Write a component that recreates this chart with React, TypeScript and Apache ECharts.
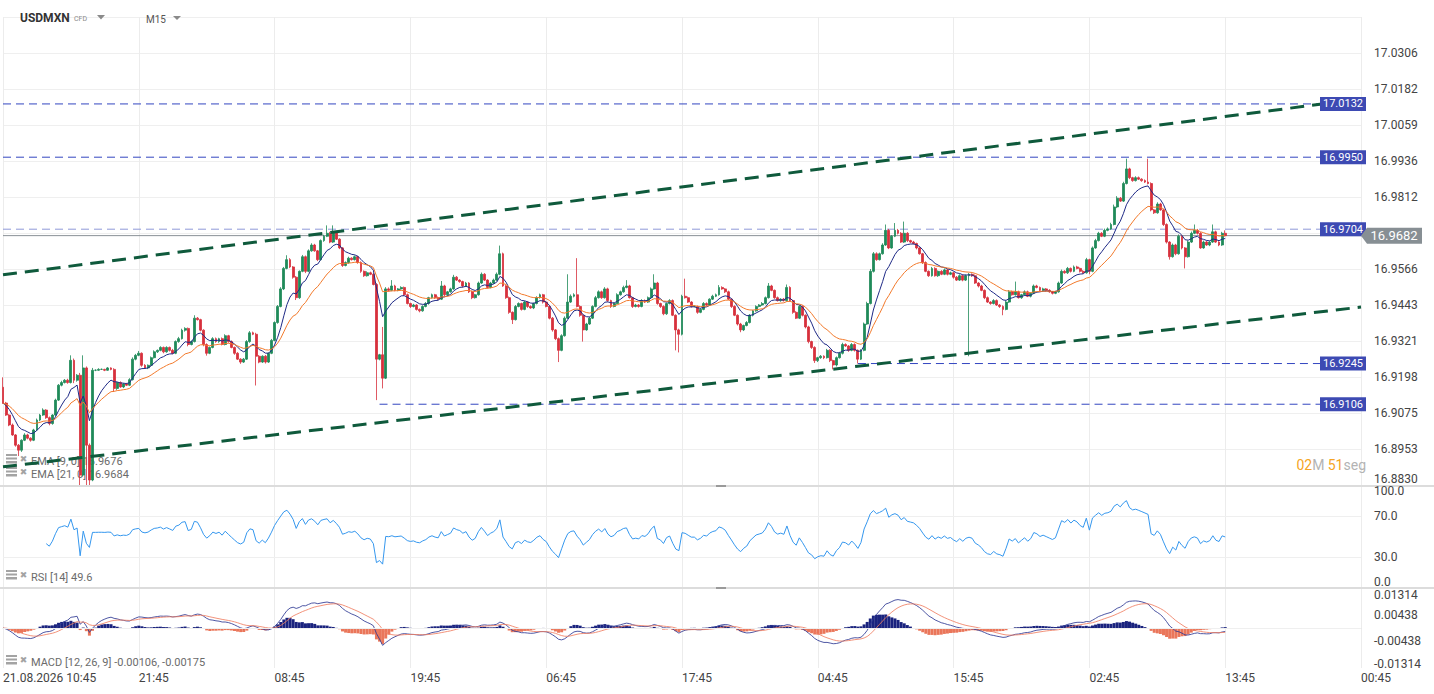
import React, { useEffect, useRef } from "react";
import * as echarts from "echarts";

// ---------------- DATA ----------------
const FIRST_OPEN = 16.9164;
// M15 closes, 21.08.2026 10:45 onwards
const CLOSES = [
  16.9110, 16.9069, 16.9035, 16.9001, 16.8966, 16.8949, 16.8983, 16.9001, 16.8990, 16.8983,
  16.9018, 16.9052, 16.9069, 16.9086, 16.9060, 16.9040, 16.9069, 16.9120, 16.9171, 16.9180,
  16.9188, 16.9180, 16.9256, 16.9188, 16.9205, 16.8864, 16.9230, 16.8966, 16.8847, 16.9222,
  16.9222, 16.9225, 16.9225, 16.9222, 16.9230, 16.9225, 16.9160, 16.9180, 16.9165, 16.9175,
  16.9171, 16.9190, 16.9260, 16.9273, 16.9280, 16.9239, 16.9230, 16.9239, 16.9265, 16.9285,
  16.9290, 16.9300, 16.9285, 16.9300, 16.9290, 16.9280, 16.9320, 16.9330, 16.9359, 16.9365,
  16.9310, 16.9320, 16.9400, 16.9395, 16.9359, 16.9310, 16.9280, 16.9300, 16.9330, 16.9320,
  16.9330, 16.9310, 16.9340, 16.9320, 16.9300, 16.9280, 16.9260, 16.9250, 16.9260, 16.9320,
  16.9350, 16.9345, 16.9270, 16.9250, 16.9270, 16.9250, 16.9280, 16.9324, 16.9385, 16.9440,
  16.9500, 16.9570, 16.9600, 16.9575, 16.9540, 16.9470, 16.9560, 16.9610, 16.9560, 16.9630,
  16.9650, 16.9630, 16.9600, 16.9665, 16.9680, 16.9690, 16.9660, 16.9692, 16.9670, 16.9640,
  16.9580, 16.9590, 16.9605, 16.9600, 16.9610, 16.9590, 16.9560, 16.9545, 16.9555, 16.9550,
  16.9515, 16.9260, 16.9275, 16.9195, 16.9500, 16.9495, 16.9510, 16.9495, 16.9500, 16.9505,
  16.9480, 16.9450, 16.9440, 16.9445, 16.9430, 16.9425, 16.9440, 16.9450, 16.9470, 16.9480,
  16.9470, 16.9465, 16.9510, 16.9480, 16.9490, 16.9500, 16.9540, 16.9530, 16.9525,
  16.9510, 16.9520, 16.9490, 16.9470, 16.9480, 16.9520, 16.9550, 16.9530, 16.9505, 16.9520,
  16.9530, 16.9550, 16.9620, 16.9510, 16.9470, 16.9420, 16.9395, 16.9440, 16.9450, 16.9430,
  16.9455, 16.9440, 16.9435, 16.9450, 16.9470, 16.9480, 16.9455, 16.9440, 16.9400, 16.9360,
  16.9330, 16.9290, 16.9340, 16.9400, 16.9455, 16.9475, 16.9480, 16.9440, 16.9410, 16.9360,
  16.9380, 16.9400, 16.9440, 16.9470, 16.9490, 16.9470, 16.9500, 16.9460, 16.9440, 16.9450,
  16.9480, 16.9490, 16.9505, 16.9510, 16.9470, 16.9440, 16.9445, 16.9440, 16.9460, 16.9455,
  16.9470, 16.9500, 16.9520, 16.9450, 16.9440, 16.9415, 16.9450, 16.9460, 16.9410, 16.9360,
  16.9345, 16.9475, 16.9470, 16.9455, 16.9440, 16.9440, 16.9420, 16.9430, 16.9450,
  16.9445, 16.9465, 16.9475, 16.9480, 16.9505, 16.9500, 16.9490, 16.9465, 16.9440, 16.9410,
  16.9380, 16.9360, 16.9375, 16.9385, 16.9410, 16.9425, 16.9440, 16.9445, 16.9450, 16.9470,
  16.9510, 16.9495, 16.9470, 16.9460, 16.9465, 16.9460, 16.9505, 16.9460, 16.9420, 16.9400,
  16.9440, 16.9410, 16.9370, 16.9320, 16.9300, 16.9255, 16.9265, 16.9270, 16.9265, 16.9290,
  16.9255, 16.9240, 16.9265, 16.9280, 16.9310, 16.9305, 16.9290, 16.9310, 16.9290, 16.9260,
  16.9290, 16.9380, 16.9450, 16.9560, 16.9620, 16.9600, 16.9620, 16.9650, 16.9700, 16.9640,
  16.9680, 16.9700, 16.9690, 16.9660, 16.9690, 16.9665, 16.9660, 16.9655, 16.9640, 16.9620,
  16.9590, 16.9560, 16.9545, 16.9570, 16.9545, 16.9560, 16.9550, 16.9565, 16.9550, 16.9555,
  16.9540, 16.9530, 16.9545, 16.9530, 16.9545, 16.9550, 16.9545, 16.9520, 16.9510, 16.9495,
  16.9470, 16.9455, 16.9450, 16.9460, 16.9445, 16.9440, 16.9430, 16.9455, 16.9490, 16.9480,
  16.9490, 16.9470, 16.9480, 16.9490, 16.9475, 16.9485, 16.9510, 16.9505, 16.9495, 16.9500,
  16.9495, 16.9490, 16.9485, 16.9490, 16.9520, 16.9560, 16.9555, 16.9570, 16.9560,
  16.9575, 16.9570, 16.9560, 16.9555, 16.9600, 16.9560, 16.9640, 16.9665, 16.9690, 16.9680,
  16.9700, 16.9705, 16.9720, 16.9780, 16.9810, 16.9800, 16.9860, 16.9910, 16.9880, 16.9870,
  16.9880, 16.9875, 16.9870, 16.9865, 16.9860, 16.9770, 16.9760, 16.9790, 16.9770, 16.9720,
  16.9660, 16.9610, 16.9650, 16.9620, 16.9680, 16.9640, 16.9610, 16.9660, 16.9690, 16.9700,
  16.9690, 16.9640, 16.9660, 16.9650, 16.9660, 16.9695, 16.9660, 16.9650, 16.9690, 16.9682,
];
// wick beyond the body, in pips (0.0001)
const WICK_UP_PIPS = [
  34, 4, 3, 5, 3, 4, 3, 6, 4, 3,
  4, 5, 4, 6, 3, 4, 3, 5, 4, 6,
  4, 5, 17, 6, 4, 8, 43, 5, 6, 8,
  3, 4, 3, 2, 3, 2, 4, 3, 4, 3,
  4, 5, 6, 5, 8, 3, 4, 3, 4, 5,
  3, 4, 3, 4, 3, 5, 4, 6, 5, 4,
  3, 4, 10, 4, 3, 3, 4, 3, 5, 4,
  3, 4, 5, 3, 4, 3, 4, 3, 4, 5,
  6, 4, 5, 4, 3, 4, 3, 5, 4, 5,
  6, 5, 15, 5, 3, 4, 3, 6, 4, 5,
  6, 4, 3, 4, 5, 27, 5, 25, 4, 3,
  3, 4, 5, 3, 4, 3, 4, 3, 5, 4,
  4, 5, 3, 95, 6, 5, 20, 4, 3, 4,
  3, 4, 3, 4, 3, 3, 4, 5, 3, 4,
  3, 4, 17, 4, 3, 4, 8, 4, 3,
  3, 4, 3, 4, 3, 5, 6, 4, 3, 4,
  5, 6, 28, 4, 3, 4, 3, 5, 4, 3,
  4, 3, 4, 3, 5, 4, 3, 4, 3, 4,
  3, 4, 5, 6, 95, 6, 5, 125, 4, 3,
  4, 5, 4, 6, 5, 4, 6, 4, 3, 4,
  5, 4, 6, 20, 4, 3, 4, 3, 5, 4,
  4, 5, 30, 4, 3, 4, 3, 5, 4, 3,
  4, 5, 60, 4, 3, 4, 3, 4, 5,
  4, 3, 5, 4, 8, 4, 3, 4, 3, 4,
  3, 4, 3, 5, 4, 3, 4, 3, 5, 4,
  10, 4, 3, 4, 3, 4, 10, 4, 3, 4,
  5, 4, 3, 4, 3, 4, 3, 4, 3, 5,
  4, 3, 4, 5, 6, 4, 3, 5, 4, 3,
  4, 5, 6, 8, 6, 5, 4, 6, 20, 5,
  4, 25, 5, 4, 40, 4, 3, 4, 3, 4,
  3, 4, 3, 5, 4, 3, 4, 5, 3, 4,
  3, 4, 5, 3, 4, 4, 3, 4, 3, 4,
  3, 4, 3, 5, 4, 3, 4, 5, 6, 4,
  35, 4, 3, 5, 4, 3, 5, 4, 3, 4,
  3, 4, 3, 4, 5, 6, 4, 5, 3,
  5, 4, 3, 4, 6, 3, 5, 6, 5, 4,
  6, 5, 6, 8, 7, 4, 6, 35, 4, 3,
  5, 4, 3, 4, 80, 4, 3, 6, 4, 3,
  4, 3, 5, 4, 6, 4, 3, 5, 6, 20,
  5, 4, 5, 4, 3, 25, 4, 3, 5, 10,
];
const WICK_DN_PIPS = [
  3, 3, 4, 3, 5, 20, 6, 3, 4, 5,
  3, 3, 4, 3, 4, 6, 4, 3, 3, 4,
  3, 4, 3, 10, 5, 34, 5, 136, 17, 4,
  3, 2, 2, 3, 2, 3, 12, 5, 3, 4,
  3, 3, 3, 4, 3, 5, 3, 4, 3, 3,
  4, 3, 5, 3, 4, 3, 3, 4, 3, 5,
  6, 3, 3, 3, 4, 6, 8, 3, 3, 4,
  4, 3, 3, 4, 3, 5, 3, 6, 3, 3,
  4, 3, 100, 4, 3, 5, 3, 3, 3, 4,
  3, 4, 3, 4, 5, 8, 4, 3, 6, 3,
  3, 3, 5, 3, 4, 3, 4, 3, 3, 4,
  5, 3, 4, 3, 3, 4, 5, 4, 3, 3,
  3, 140, 4, 35, 3, 4, 3, 3, 3, 3,
  4, 3, 5, 3, 4, 5, 3, 3, 4, 3,
  4, 3, 3, 5, 4, 3, 3, 3, 4,
  5, 3, 4, 5, 3, 3, 3, 3, 4, 3,
  3, 3, 3, 3, 4, 5, 15, 3, 3, 4,
  3, 5, 3, 4, 3, 3, 5, 3, 4, 6,
  5, 40, 3, 3, 3, 3, 4, 3, 5, 40,
  3, 3, 3, 3, 3, 4, 3, 4, 5, 3,
  3, 3, 3, 3, 3, 5, 3, 4, 3, 3,
  3, 3, 3, 4, 5, 5, 4, 3, 3, 70,
  62, 4, 3, 3, 4, 3, 5, 3, 3,
  3, 3, 3, 3, 3, 3, 4, 3, 5, 3,
  5, 8, 4, 3, 3, 4, 3, 3, 3, 3,
  3, 3, 4, 3, 4, 3, 3, 3, 5, 3,
  3, 4, 5, 6, 5, 8, 5, 4, 5, 3,
  5, 15, 5, 3, 4, 3, 5, 3, 4, 15,
  3, 3, 3, 3, 4, 4, 3, 3, 3, 4,
  3, 3, 4, 3, 3, 5, 4, 3, 5, 3,
  5, 3, 4, 3, 3, 4, 3, 3, 4, 3,
  5, 3, 3, 4, 3, 275, 4, 3, 5, 3,
  5, 3, 4, 3, 3, 5, 20, 3, 3, 3,
  3, 3, 4, 3, 3, 4, 3, 3, 4, 3,
  4, 3, 4, 3, 3, 3, 3, 4, 4,
  3, 3, 4, 3, 3, 10, 3, 3, 3, 3,
  3, 3, 3, 3, 4, 3, 3, 3, 5, 4,
  3, 3, 4, 3, 3, 5, 4, 3, 3, 5,
  5, 10, 3, 5, 3, 5, 40, 3, 3, 3,
  4, 3, 3, 3, 4, 3, 3, 4, 3, 3,
];
const PIP = 0.0001;

const PRICE_BASE = 16.883;
const PRICE_STEP = 0.0123;
const PRICE_TICK_LABELS = [
  "16.8830", "16.8953", "16.9075", "16.9198", "16.9321", "16.9443", "16.9566",
  "", "16.9812", "16.9936", "17.0059", "17.0182", "17.0306", "",
];
const TIME_LABELS = ["21.08.2026 10:45", "21:45", "08:45", "19:45", "06:45", "17:45", "04:45", "15:45", "02:45", "13:45", "00:45"];
const BARS_PER_LABEL = 44;
const N_SLOTS = 441;

const LEVELS = [17.0132, 16.995, 16.9704, 16.9245, 16.9106];
const LEVEL_LABELS = ["17.0132", "16.9950", "16.9704", "16.9245", "16.9106"];
const LEVEL_START_BAR = [0, 0, 0, 277, 122];
const LAST_PRICE = 16.9682;
const LAST_PRICE_LABEL = "16.9682";
const UPPER_TREND = [[0, 16.9548], [440, 17.0149]];
const LOWER_TREND = [[0, 16.8892], [440, 16.9438]];

const RSI_LABELS: Record<number, string> = { 0: "0.0", 30: "30.0", 70: "70.0", 100: "100.0" };
const RSI_GUIDES = [30, 70];
const MACD_STEP = 0.00438;
const MACD_LABELS: any = { "-3": "-0.01314", "-1": "-0.00438", "1": "0.00438", "3": "0.01314" };
const MACD_GUIDES = [-0.00438, 0.00438];

const LEGEND_EMA9 = "EMA [9, 0] 16.9676";
const LEGEND_EMA21 = "EMA [21, 0] 16.9684";
const LEGEND_RSI = "RSI [14] 49.6";
const LEGEND_MACD = "MACD [12, 26, 9] -0.00106, -0.00175";

// ---------------- STYLE ----------------
const FONT = "Roboto, 'Noto Sans', sans-serif";
const UP = "#1f8a59";
const DOWN = "#d7303c";
const EMA9_C = "#1f2a86";
const EMA21_C = "#f27a2c";
const LEVEL_C = "#3346c0";
const TREND_C = "#0f5a3c";
const GRID_C = "#efefef";

// ---------------- INDICATORS ----------------
function ema(values: number[], period: number) {
  const k = 2 / (period + 1);
  const out: number[] = [];
  let prev = values[0];
  values.forEach((v, i) => {
    prev = i === 0 ? v : v * k + prev * (1 - k);
    out.push(prev);
  });
  return out;
}
function rsi(values: number[], period: number) {
  const out: (number | null)[] = [null];
  let ag = 0, al = 0;
  for (let i = 1; i < values.length; i++) {
    const d = values[i] - values[i - 1];
    const g = Math.max(d, 0), l = Math.max(-d, 0);
    const n = Math.min(i, period);
    ag = (ag * (n - 1) + g) / n;
    al = (al * (n - 1) + l) / n;
    out.push(i < period ? null : al === 0 ? 100 : 100 - 100 / (1 + ag / al));
  }
  return out;
}

const rel = (p: number) => p - PRICE_BASE;

function buildOption() {
  const slots = Array.from({ length: N_SLOTS }, (_, i) => String(i));
  const candles = CLOSES.map((c, i) => {
    const o = i === 0 ? FIRST_OPEN : CLOSES[i - 1];
    const hi = Math.max(o, c) + WICK_UP_PIPS[i] * PIP;
    const lo = Math.min(o, c) - WICK_DN_PIPS[i] * PIP;
    return [rel(o), rel(c), rel(lo), rel(hi)];
  });
  const ema9 = ema(CLOSES, 9).map(rel);
  const ema21 = ema(CLOSES, 21).map(rel);
  const rsiV = rsi(CLOSES, 14);
  const e12 = ema(CLOSES, 12);
  const e26 = ema(CLOSES, 26);
  const macd = e12.map((v, i) => v - e26[i]);
  const signal = ema(macd, 9);
  const hist = macd.map((v, i) => v - signal[i]);

  const xAxis = (gridIndex: number, labels: boolean) => ({
    type: "category",
    gridIndex,
    data: slots,
    boundaryGap: false,
    axisLine: { show: labels, lineStyle: { color: "#e2e2e2" } },
    axisTick: { show: false },
    axisLabel: labels
      ? {
          show: true,
          interval: BARS_PER_LABEL - 1,
          align: "left",
          margin: 4,
          color: "#444",
          fontSize: 12,
          fontFamily: FONT,
          formatter: (v: string) => {
            const k = Number(v);
            return k % BARS_PER_LABEL === 0 ? TIME_LABELS[k / BARS_PER_LABEL] : "";
          },
        }
      : { show: false },
    splitLine: { show: true, interval: BARS_PER_LABEL - 1, lineStyle: { color: "#ececec", width: 1 } },
  });

  const labelBase = { color: "#444", fontSize: 12, fontFamily: FONT };

  const levelSeries = LEVELS.map((l, i) => ({
    type: "line",
    xAxisIndex: 0,
    yAxisIndex: 0,
    data: [[LEVEL_START_BAR[i], rel(l)], [N_SLOTS - 1, rel(l)]],
    symbol: "none",
    silent: true,
    z: 2,
    lineStyle: { color: i === 2 ? "#8e98d8" : LEVEL_C, width: 1, type: [8, 5] },
  }));

  return {
    animation: false,
    backgroundColor: "#fff",
    grid: [
      { left: 3, right: 73, top: 17, height: 468 },
      { left: 3, right: 73, top: 485, height: 103 },
      { left: 3, right: 73, top: 588, height: 80 },
    ],
    xAxis: [xAxis(0, false), xAxis(1, false), xAxis(2, true)],
    yAxis: [
      {
        type: "value",
        gridIndex: 0,
        position: "right",
        min: 0,
        max: 13 * PRICE_STEP,
        interval: PRICE_STEP,
        axisLine: { show: false },
        axisTick: { show: false },
        axisLabel: {
          ...labelBase,
          margin: 13,
          formatter: (v: number) => {
            const k = Math.round(v / PRICE_STEP);
            const t = PRICE_TICK_LABELS[k] || "";
            return k === 0 ? `{lo|${t}}` : t;
          },
          rich: { lo: { ...labelBase, padding: [0, 0, 12, 0] } },
        },
        splitLine: { lineStyle: { color: GRID_C } },
      },
      {
        type: "value",
        gridIndex: 1,
        position: "right",
        min: 0,
        max: 100,
        interval: 10,
        axisLine: { show: false },
        axisTick: { show: false },
        splitLine: { show: false },
        axisLabel: {
          ...labelBase,
          margin: 13,
          formatter: (v: number) => {
            const t = RSI_LABELS[Math.round(v)];
            if (!t) return "";
            if (Math.round(v) === 100) return `{top|${t}}`;
            if (Math.round(v) === 0) return `{bot|${t}}`;
            return t;
          },
          rich: {
            top: { ...labelBase, padding: [12, 0, 0, 0] },
            bot: { ...labelBase, padding: [0, 0, 12, 0] },
          },
        },
      },
      {
        type: "value",
        gridIndex: 2,
        position: "right",
        min: -3 * MACD_STEP,
        max: 3 * MACD_STEP,
        interval: MACD_STEP,
        axisLine: { show: false },
        axisTick: { show: false },
        splitLine: { show: false },
        axisLabel: {
          ...labelBase,
          margin: 13,
          formatter: (v: number) => {
            const k = Math.round(v / MACD_STEP);
            const t = MACD_LABELS[k];
            if (!t) return "";
            if (k === 3) return `{top|${t}}`;
            if (k === -3) return `{bot|${t}}`;
            return t;
          },
          rich: {
            top: { ...labelBase, padding: [14, 0, 0, 0] },
            bot: { ...labelBase, padding: [0, 0, 8, 0] },
          },
        },
      },
    ],
    series: [
      ...levelSeries,
      {
        type: "line",
        xAxisIndex: 0,
        yAxisIndex: 0,
        data: [[0, rel(LAST_PRICE)], [N_SLOTS - 1, rel(LAST_PRICE)]],
        symbol: "none",
        silent: true,
        z: 2,
        lineStyle: { color: "#8a9196", width: 1 },
      },
      {
        type: "candlestick",
        xAxisIndex: 0,
        yAxisIndex: 0,
        data: candles,
        barWidth: 2.4,
        silent: true,
        z: 3,
        itemStyle: { color: UP, color0: DOWN, borderColor: UP, borderColor0: DOWN, borderWidth: 0.8 },
      },
      {
        type: "line",
        xAxisIndex: 0,
        yAxisIndex: 0,
        data: ema9,
        showSymbol: false,
        symbol: "none",
        silent: true,
        z: 4,
        lineStyle: { color: EMA9_C, width: 1 },
      },
      {
        type: "line",
        xAxisIndex: 0,
        yAxisIndex: 0,
        data: ema21,
        showSymbol: false,
        symbol: "none",
        silent: true,
        z: 4,
        lineStyle: { color: EMA21_C, width: 1 },
      },
      ...[UPPER_TREND, LOWER_TREND].map((t) => ({
        type: "line",
        xAxisIndex: 0,
        yAxisIndex: 0,
        data: t.map(([x, p]) => [x, rel(p)]),
        symbol: "none",
        silent: true,
        z: 6,
        lineStyle: { color: TREND_C, width: 3, type: [14, 8] },
      })),
      {
        type: "line",
        xAxisIndex: 1,
        yAxisIndex: 1,
        data: rsiV,
        showSymbol: false,
        symbol: "none",
        silent: true,
        z: 4,
        lineStyle: { color: "#3597ee", width: 1 },
        markLine: {
          silent: true,
          symbol: "none",
          label: { show: false },
          lineStyle: { color: GRID_C, type: "solid", width: 1 },
          data: RSI_GUIDES.map((g) => ({ yAxis: g })),
          z: 1,
        },
      },
      {
        type: "bar",
        xAxisIndex: 2,
        yAxisIndex: 2,
        data: hist,
        barWidth: 3,
        silent: true,
        z: 3,
        itemStyle: { color: (p: any) => (p.value >= 0 ? "#1a237e" : "#ea765a") },
        markLine: {
          silent: true,
          symbol: "none",
          label: { show: false },
          lineStyle: { color: GRID_C, type: "solid", width: 1 },
          data: MACD_GUIDES.map((g) => ({ yAxis: g })),
        },
      },
      {
        type: "line",
        xAxisIndex: 2,
        yAxisIndex: 2,
        data: macd,
        showSymbol: false,
        symbol: "none",
        silent: true,
        z: 4,
        lineStyle: { color: "#2f3a94", width: 1, opacity: 0.85 },
      },
      {
        type: "line",
        xAxisIndex: 2,
        yAxisIndex: 2,
        data: signal,
        showSymbol: false,
        symbol: "none",
        silent: true,
        z: 4,
        lineStyle: { color: "#f07f63", width: 1, opacity: 0.85 },
      },
    ],
  };
}

function legendRow(y: number, text: string) {
  const g = "#a3a3a3";
  return [
    { type: "rect", silent: true, shape: { x: 6, y: y - 7, width: 11, height: 2 }, style: { fill: g } },
    { type: "rect", silent: true, shape: { x: 6, y: y - 3.5, width: 11, height: 2 }, style: { fill: g } },
    { type: "rect", silent: true, shape: { x: 6, y: y, width: 11, height: 2.5 }, style: { fill: g } },
    {
      type: "text",
      silent: true,
      x: 23.5,
      y: y - 2,
      style: { text: "✖", fill: g, fontSize: 9, fontFamily: "DejaVu Sans", align: "center", verticalAlign: "middle" },
    },
    {
      type: "text",
      silent: true,
      x: 31,
      y: y,
      style: { text, fill: "#6b6b6b", fontSize: 11, fontFamily: FONT, align: "left", verticalAlign: "middle" },
    },
  ];
}

function buildOverlay(chart: any) {
  const yOf = (p: number) => chart.convertToPixel({ yAxisIndex: 0 }, rel(p));
  const els: any[] = [];
  // pane separators
  [485, 587].forEach((y) => {
    els.push({ type: "rect", silent: true, shape: { x: 0, y, width: 1434, height: 2 }, style: { fill: "#dcdcdc" } });
    els.push({ type: "rect", silent: true, shape: { x: 716, y, width: 10, height: 2 }, style: { fill: "#9a9a9a" } });
  });
  // level boxes
  LEVELS.forEach((l, i) => {
    const y = yOf(l);
    els.push({ type: "rect", silent: true, z: 50, shape: { x: 1320, y: y - 7, width: 46, height: 14 }, style: { fill: "#3d4ab3" } });
    els.push({
      type: "text",
      silent: true,
      z: 51,
      x: 1343,
      y,
      style: { text: LEVEL_LABELS[i], fill: "#fff", fontSize: 11, fontFamily: FONT, align: "center", verticalAlign: "middle" },
    });
  });
  // last price box
  const ly = yOf(LAST_PRICE);
  els.push({
    type: "polygon",
    silent: true,
    z: 52,
    shape: { points: [[1361, ly], [1367, ly - 8], [1422, ly - 8], [1422, ly + 8], [1367, ly + 8]] },
    style: { fill: "#878f94" },
  });
  els.push({
    type: "text",
    silent: true,
    z: 53,
    x: 1394,
    y: ly,
    style: { text: LAST_PRICE_LABEL, fill: "#fff", fontSize: 13, fontFamily: FONT, align: "center", verticalAlign: "middle" },
  });
  // header
  els.push({
    type: "text", silent: true, x: 20, y: 18,
    style: { text: "USDMXN", fill: "#333", fontSize: 12, fontWeight: "bold", fontFamily: FONT, verticalAlign: "middle" },
  });
  els.push({
    type: "text", silent: true, x: 74, y: 19,
    style: { text: "CFD", fill: "#8a8a8a", fontSize: 7, fontFamily: FONT, verticalAlign: "middle" },
  });
  els.push({ type: "polygon", silent: true, shape: { points: [[97, 15], [105, 15], [101, 19.5]] }, style: { fill: "#8a8a8a" } });
  els.push({
    type: "text", silent: true, x: 146, y: 19,
    style: { text: "M15", fill: "#555", fontSize: 10, fontFamily: FONT, verticalAlign: "middle" },
  });
  els.push({ type: "polygon", silent: true, shape: { points: [[173, 16], [181, 16], [177, 20]] }, style: { fill: "#8a8a8a" } });
  // legends
  els.push(...legendRow(461, LEGEND_EMA9));
  els.push(...legendRow(474, LEGEND_EMA21));
  els.push(...legendRow(577, LEGEND_RSI));
  els.push(...legendRow(662, LEGEND_MACD));
  // timer
  els.push({
    type: "text",
    silent: true,
    x: 1366,
    y: 465,
    style: {
      text: "{o|02}{g|M} {o|51}{g|seg}",
      align: "right",
      verticalAlign: "middle",
      rich: {
        o: { fill: "#f5a524", fontSize: 14, fontFamily: FONT },
        g: { fill: "#b3b3b3", fontSize: 14, fontFamily: FONT },
      },
    },
  });
  return els;
}

export default function App() {
  const ref = useRef<HTMLDivElement>(null);
  useEffect(() => {
    if (!ref.current) return;
    const chart = echarts.init(ref.current, null, { renderer: "svg" });
    chart.setOption(buildOption() as any);
    chart.setOption({ graphic: buildOverlay(chart) } as any);
    return () => chart.dispose();
  }, []);
  return (
    <div
      ref={ref}
      style={{ position: "fixed", left: 0, top: 0, width: 1434, height: 694, background: "#fff" }}
    />
  );
}
